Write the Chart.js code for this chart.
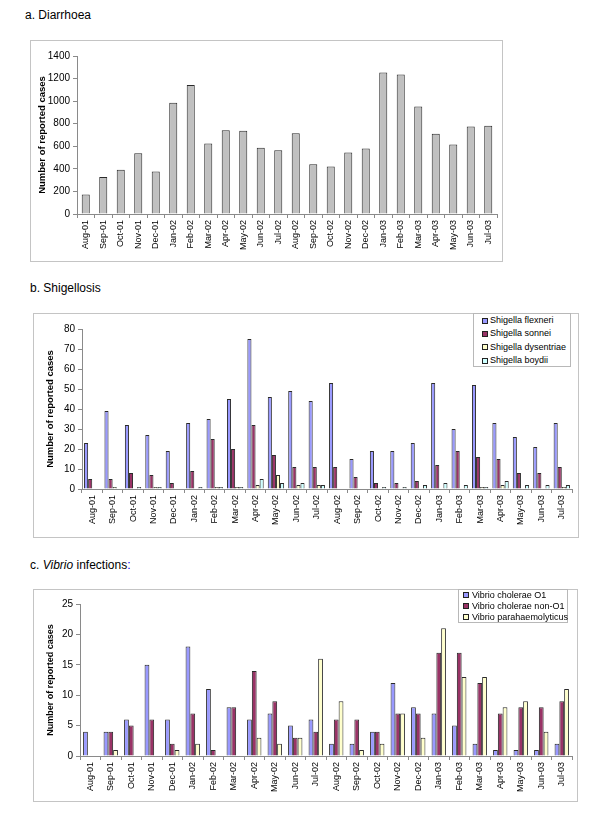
<!DOCTYPE html>
<html>
<head>
<meta charset="utf-8">
<script src="https://cdn.jsdelivr.net/npm/chart.js@4.4.0/dist/chart.umd.min.js"></script>
<style>
  body { margin: 0; background: #fff; width: 600px; height: 829px; position: relative; overflow: hidden;
         font-family: 'Liberation Sans', Arial, sans-serif; }
  .title { position: absolute; font-size: 12px; color: #000; white-space: nowrap; }
  .box { position: absolute; border: 1px solid #c4c4c4; box-sizing: border-box; }
  canvas { position: absolute; }
  .legend { position: absolute; border: 1px solid #b8b8b8; background: #fff; box-sizing: border-box;
            font-size: 9px; color: #000; }
  .legend .row { position: relative; white-space: nowrap; }
  .legend .sw { position: absolute; width: 4px; height: 4px; border: 1px solid #222; }
</style>
</head>
<body>
<div class="title" style="left:25px;top:8px">a. Diarrhoea</div>
<div class="box" style="left:30px;top:40px;width:473px;height:222px"></div>
<canvas id="chartA" width="473" height="222" style="left:30px;top:40px"></canvas>

<div class="title" style="left:30px;top:281px">b. Shigellosis</div>
<div class="box" style="left:33px;top:313px;width:546px;height:225px"></div>
<canvas id="chartB" width="546" height="225" style="left:33px;top:313px"></canvas>
<div class="legend" id="legendB" style="left:473px;top:313px;width:98px;height:54px"></div>

<div class="title" style="left:30px;top:558px">c. <i>Vibrio</i> infections<span style="color:#0000ff">:</span></div>
<div class="box" style="left:33px;top:589px;width:545px;height:213px"></div>
<canvas id="chartC" width="545" height="213" style="left:33px;top:589px"></canvas>
<div class="legend" id="legendC" style="left:458px;top:589px;width:110px;height:34px"></div>

<script>
// data
const months = ['Aug-01','Sep-01','Oct-01','Nov-01','Dec-01','Jan-02','Feb-02','Mar-02','Apr-02','May-02','Jun-02','Jul-02',
                'Aug-02','Sep-02','Oct-02','Nov-02','Dec-02','Jan-03','Feb-03','Mar-03','Apr-03','May-03','Jun-03','Jul-03'];

const diarrhoea = [172,328,393,538,376,985,1142,624,743,737,586,565,716,441,420,544,580,1254,1237,953,710,615,775,781];

const shigellaLabels = ['Shigella flexneri','Shigella sonnei','Shigella dysentriae','Shigella boydii'];
const flexneri   = [23,39,32,27,19,33,35,45,75,46,49,44,53,15,19,19,23,53,30,52,33,26,21,33];
const sonnei     = [5,5,8,7,3,9,25,20,32,17,11,11,11,6,3,3,4,12,19,16,15,8,8,11];
const dysentriae = [0,1,0,1,0,0,1,1,2,7,2,2,0,0,0,0,0,0,0,1,2,0,0,1];
const boydii     = [0,0,1,1,0,1,1,1,5,3,3,2,0,0,1,1,2,3,2,1,4,2,2,2];

const vibrioLabels = ['Vibrio cholerae O1','Vibrio cholerae non-O1','Vibrio parahaemolyticus'];
const choleraeO1    = [4,4,6,15,6,18,11,8,6,7,5,6,2,2,4,12,8,7,5,2,1,1,1,2];
const choleraeNonO1 = [0,4,5,6,2,7,1,8,14,9,3,4,6,6,4,7,7,17,17,12,7,8,8,9];
const parahaem      = [0,1,0,0,1,2,0,0,3,2,3,16,9,1,2,7,3,21,13,13,8,9,4,11];

const yTicksA = [0,200,400,600,800,1000,1200,1400];
const yTicksB = [0,10,20,30,40,50,60,70,80];
const yTicksC = [0,5,10,15,20,25];

const seriesColors = ['#9999ff','#993366','#ffffcc','#ccffff'];

Chart.defaults.font.family = "'Liberation Sans', Arial, sans-serif";
Chart.defaults.color = '#000';

function makeChart(id, datasets, yTicks, o) {
  return new Chart(document.getElementById(id), {
    type: 'bar',
    data: { labels: months, datasets: datasets },
    options: {
      responsive: false,
      animation: false,
      layout: { padding: { left: 0, right: o.padRight, top: o.padTop, bottom: 0 } },
      plugins: { legend: { display: false }, tooltip: { enabled: false } },
      datasets: { bar: { categoryPercentage: o.catPct, barPercentage: o.barPct, borderWidth: 1, borderColor: '#2a2a2a' } },
      scales: {
        x: {
          grid: { drawOnChartArea: false, tickLength: 4, color: '#8a8a8a' },
          border: { color: '#8a8a8a' },
          ticks: { minRotation: 90, maxRotation: 90, autoSkip: false, font: { size: 9 }, padding: 2 },
          afterFit: s => { s.height = o.xHeight; }
        },
        y: {
          min: yTicks[0], max: yTicks[yTicks.length - 1],
          grid: { drawOnChartArea: false, tickLength: 4, color: '#8a8a8a' },
          border: { color: '#8a8a8a' },
          ticks: { font: { size: 10 }, padding: 3, callback: v => String(v) },
          afterBuildTicks: s => { s.ticks = yTicks.map(v => ({ value: v })); },
          title: { display: true, text: 'Number of reported cases',
                   font: { size: o.titleSize, weight: 'bold' }, padding: { top: o.titlePad, bottom: 0 } },
          afterFit: s => { s.width = o.yWidth; }
        }
      }
    }
  });
}

function buildLegend(id, labels, o) {
  const el = document.getElementById(id);
  labels.forEach((lab, i) => {
    const row = document.createElement('div');
    row.className = 'row';
    row.style.height = o.rowH + 'px';
    row.style.lineHeight = o.rowH + 'px';
    row.style.paddingLeft = o.textX + 'px';
    const sw = document.createElement('span');
    sw.className = 'sw';
    sw.style.background = seriesColors[i];
    sw.style.left = o.swX + 'px';
    sw.style.top = (o.rowH / 2 - 3) + 'px';
    row.appendChild(sw);
    row.appendChild(document.createTextNode(lab));
    el.appendChild(row);
  });
  el.style.paddingTop = o.padTop + 'px';
}

makeChart('chartA', [
  { label: 'Diarrhoea', data: diarrhoea, backgroundColor: '#c0c0c0' }
], yTicksA, { padRight: 6, padTop: 16, xHeight: 48, yWidth: 47, catPct: 1, barPct: 0.46, titleSize: 9.5, titlePad: 7 });

makeChart('chartB', [flexneri, sonnei, dysentriae, boydii].map((d, i) => ({
  label: shigellaLabels[i], data: d, backgroundColor: seriesColors[i]
})), yTicksB, { padRight: 7, padTop: 16, xHeight: 49, yWidth: 49, catPct: 0.8, barPct: 1, titleSize: 9.5, titlePad: 12 });

makeChart('chartC', [choleraeO1, choleraeNonO1, parahaem].map((d, i) => ({
  label: vibrioLabels[i], data: d, backgroundColor: seriesColors[i]
})), yTicksC, { padRight: 6, padTop: 15, xHeight: 46, yWidth: 47, catPct: 0.7, barPct: 1, titleSize: 9, titlePad: 12 });

buildLegend('legendB', shigellaLabels, { rowH: 13.3, padTop: 0, swX: 8, textX: 16 });
buildLegend('legendC', vibrioLabels, { rowH: 10.8, padTop: 0, swX: 4, textX: 13 });
</script>
</body>
</html>
